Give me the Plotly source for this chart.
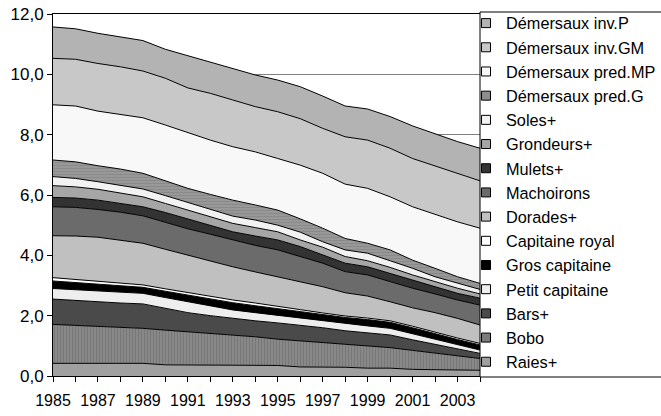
import plotly.graph_objects as go

years = list(range(1985, 2005))

# series, bottom to top of the stack
raies = [0.42,0.42,0.42,0.42,0.42,0.37,0.37,0.36,0.35,0.35,0.35,0.30,0.30,0.29,0.26,0.26,0.22,0.21,0.20,0.19]
bobo = [1.29,1.26,1.23,1.20,1.16,1.15,1.10,1.06,1.01,0.95,0.87,0.86,0.80,0.75,0.73,0.68,0.63,0.55,0.47,0.39]
bars = [0.84,0.82,0.81,0.80,0.81,0.73,0.63,0.58,0.55,0.53,0.54,0.53,0.50,0.46,0.45,0.42,0.35,0.29,0.23,0.17]
petit_capitaine = [0.35,0.36,0.36,0.36,0.35,0.35,0.36,0.32,0.28,0.27,0.25,0.24,0.23,0.23,0.22,0.22,0.20,0.15,0.13,0.11]
gros_capitaine = [0.25,0.24,0.23,0.22,0.20,0.21,0.22,0.23,0.24,0.23,0.22,0.22,0.21,0.21,0.21,0.20,0.20,0.20,0.18,0.17]
capitaine_royal = [0.11,0.10,0.09,0.08,0.08,0.08,0.08,0.08,0.09,0.09,0.09,0.05,0.05,0.05,0.05,0.05,0.05,0.05,0.05,0.05]
dorades = [1.39,1.44,1.46,1.42,1.38,1.31,1.24,1.17,1.10,1.03,0.97,0.93,0.87,0.77,0.73,0.63,0.61,0.65,0.65,0.61]
machoirons = [0.96,0.95,0.92,0.93,0.91,0.90,0.88,0.90,0.89,0.88,0.89,0.83,0.78,0.70,0.70,0.67,0.65,0.62,0.61,0.66]
mulets = [0.31,0.31,0.31,0.30,0.30,0.32,0.32,0.28,0.27,0.31,0.33,0.33,0.27,0.28,0.27,0.27,0.27,0.24,0.22,0.23]
grondeurs = [0.39,0.37,0.36,0.34,0.33,0.30,0.30,0.29,0.28,0.28,0.27,0.22,0.26,0.22,0.20,0.20,0.17,0.17,0.17,0.14]
soles = [0.30,0.28,0.25,0.25,0.26,0.26,0.25,0.25,0.24,0.25,0.22,0.26,0.18,0.22,0.25,0.22,0.22,0.16,0.16,0.15]
dem_pred_g = [0.55,0.55,0.53,0.54,0.52,0.48,0.47,0.50,0.53,0.50,0.50,0.44,0.45,0.38,0.33,0.36,0.27,0.28,0.22,0.20]
dem_pred_mp = [1.83,1.85,1.81,1.81,1.84,1.86,1.84,1.80,1.77,1.76,1.71,1.78,1.82,1.80,1.82,1.76,1.77,1.80,1.82,1.83]
dem_inv_gm = [1.54,1.55,1.58,1.58,1.55,1.55,1.49,1.55,1.55,1.50,1.55,1.54,1.49,1.57,1.60,1.61,1.60,1.59,1.61,1.57]
dem_inv_p = [1.04,1.01,1.00,1.00,1.01,0.96,1.07,1.05,1.05,1.05,1.05,1.06,1.07,1.02,1.03,1.05,1.08,1.06,1.05,1.08]

names = ["Raies+", "Bobo", "Bars+", "Petit capitaine", "Gros capitaine", "Capitaine royal",
         "Dorades+", "Machoirons", "Mulets+", "Grondeurs+", "Soles+", "Démersaux pred.G",
         "Démersaux pred.MP", "Démersaux inv.GM", "Démersaux inv.P"]
values = [raies, bobo, bars, petit_capitaine, gros_capitaine, capitaine_royal, dorades,
          machoirons, mulets, grondeurs, soles, dem_pred_g, dem_pred_mp, dem_inv_gm, dem_inv_p]
colors = ["#a0a0a0", "#7c7c7c", "#4a4a4a", "#eeeeee", "#000000", "#ffffff", "#c0c0c0",
          "#6b6b6b", "#333333", "#a6a6a6", "#f2f2f2", "#8e8e8e", "#f8f8f8", "#c8c8c8", "#b3b3b3"]
patterns = {"Bobo": dict(shape="|", bgcolor="#8a8a8a", fgcolor="#666666", size=3, solidity=0.4),
            "Démersaux pred.G": dict(shape="-", bgcolor="#9a9a9a", fgcolor="#7a7a7a", size=3, solidity=0.4)}
x_labels = [str(y) if (y - 1985) % 2 == 0 else "" for y in years]

fig = go.Figure()
for name, vals, col in zip(names, values, colors):
    kw = {}
    if name in patterns:
        kw["fillpattern"] = patterns[name]
    fig.add_trace(go.Scatter(x=years, y=vals, name=name, stackgroup="one", mode="lines",
                             line=dict(color="black", width=1), fillcolor=col,
                             showlegend=False, hoverinfo="skip", **kw))

# legend entries (top to bottom as in reference)
for name, col in zip(reversed(names), reversed(colors)):
    fig.add_trace(go.Scatter(x=[None], y=[None], name=name, mode="markers",
                             marker=dict(symbol="square", size=9, color=col,
                                         line=dict(color="black", width=1))))

W, H = 661, 416
L, R, T, B = 53, 480, 14, 376
pw, ph = R - L, B - T

fig.add_shape(type="rect", xref="paper", yref="paper",
              x0=1.0, x1=1.0 + (W + 10 - R) / pw,
              y0=(B - 377) / ph, y1=(B - 12) / ph,
              line=dict(color="black", width=1), fillcolor="white", layer="above")

fig.update_layout(
    width=W, height=H,
    margin=dict(l=L, r=W - R, t=T, b=H - B, pad=0, autoexpand=False),
    paper_bgcolor="white", plot_bgcolor="white",
    separators=", ",
    font=dict(family="Liberation Sans, Arial, sans-serif", size=16, color="black"),
    showlegend=True,
    legend=dict(xref="container", yref="container", x=466 / W, y=1 - 6 / H,
                xanchor="left", yanchor="top", bgcolor="rgba(0,0,0,0)",
                borderwidth=0, font=dict(size=16.3), itemwidth=30, traceorder="normal",
                maxheight=430),
    xaxis=dict(range=[1985, 2004], tickmode="array", tickvals=years, ticktext=x_labels,
               ticks="outside", ticklen=5, tickcolor="black", showline=True,
               linecolor="black", linewidth=1, mirror=True, showgrid=False, zeroline=False,
               tickangle=0, automargin=False, tickfont=dict(size=16), ticklabelstandoff=5,
               ticklabeloverflow="allow"),
    yaxis=dict(range=[0, 12], dtick=2, tickformat=".1f", ticks="outside", ticklen=5,
               tickcolor="black", showline=True, linecolor="black", linewidth=1,
               showgrid=True, gridcolor="#808080", gridwidth=1, zeroline=False,
               automargin=False, tickfont=dict(size=17), ticklabelstandoff=0,
               ticklabeloverflow="allow"),
)

fig.write_html("out.html", config={"displayModeBar": False},
               post_script="document.body.style.margin='0';")
